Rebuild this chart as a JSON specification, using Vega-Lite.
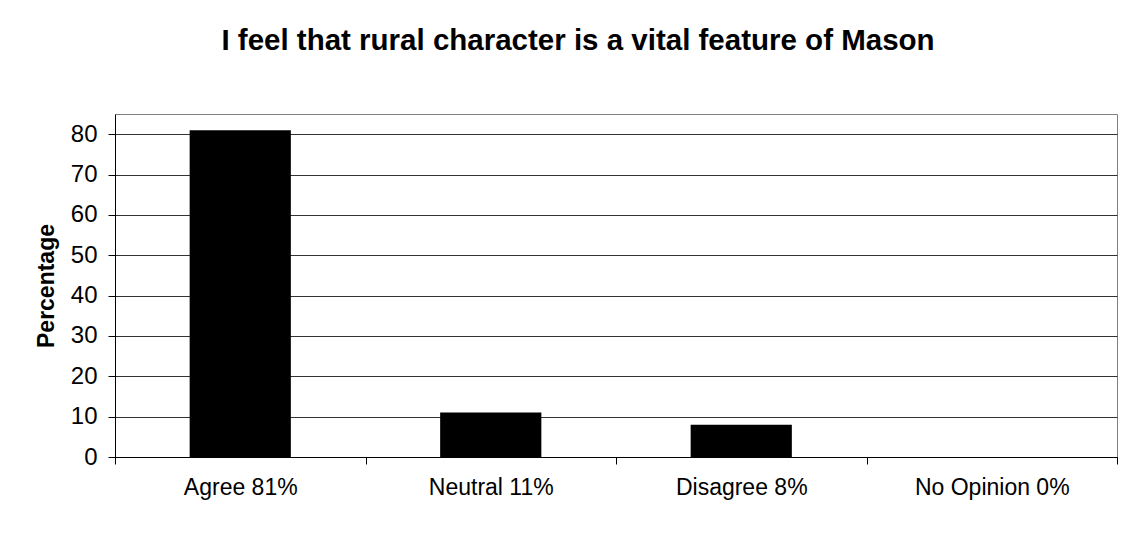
{
  "$schema": "https://vega.github.io/schema/vega-lite/v6.json",
  "autosize": {"type": "none"},
  "width": 1002,
  "height": 343,
  "padding": {"left": 115, "top": 114, "right": 16, "bottom": 76},
  "background": "white",
  "config": {
    "font": "Liberation Sans",
    "view": {"stroke": "#808080", "strokeWidth": 1}
  },
  "title": {
    "text": "I feel that rural character is a vital feature of Mason",
    "fontSize": 29.5,
    "fontWeight": "bold",
    "color": "#000000",
    "font": "Liberation Sans",
    "anchor": "middle",
    "frame": "group",
    "dx": -38,
    "offset": 58
  },
  "data": {
    "values": [
      {"category": "Agree 81%", "percentage": 81},
      {"category": "Neutral 11%", "percentage": 11},
      {"category": "Disagree 8%", "percentage": 8},
      {"category": "No Opinion 0%", "percentage": 0}
    ]
  },
  "mark": {"type": "bar", "color": "#000000", "width": {"band": 0.404}},
  "encoding": {
    "x": {
      "field": "category",
      "type": "nominal",
      "sort": null,
      "scale": {"paddingInner": 0, "paddingOuter": 0},
      "axis": {
        "title": null,
        "labelAngle": 0,
        "labelFontSize": 23,
        "labelColor": "#000000",
        "labelPadding": 12,
        "tickBand": "extent",
        "tickSize": 7,
        "tickColor": "#000000",
        "domainColor": "#000000",
        "grid": false
      }
    },
    "y": {
      "field": "percentage",
      "type": "quantitative",
      "scale": {"domain": [0, 85], "nice": false},
      "axis": {
        "title": "Percentage",
        "titleFontSize": 23,
        "titleFontWeight": "bold",
        "titleColor": "#000000",
        "titlePadding": 12,
        "values": [0, 10, 20, 30, 40, 50, 60, 70, 80],
        "labelFontSize": 24,
        "labelColor": "#000000",
        "labelPadding": 11,
        "tickSize": 7,
        "tickColor": "#000000",
        "domainColor": "#000000",
        "grid": true,
        "gridColor": "#333333",
        "gridWidth": 1
      }
    }
  }
}
